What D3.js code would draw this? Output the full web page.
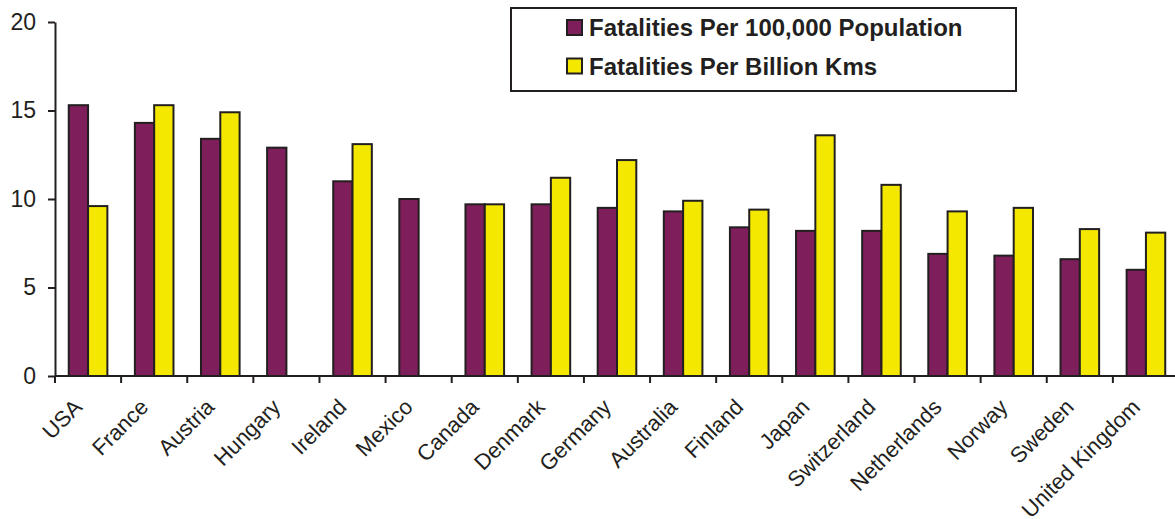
<!DOCTYPE html>
<html>
<head>
<meta charset="utf-8">
<script src="https://cdn.jsdelivr.net/npm/d3@7"></script>
<style>
  html, body { margin: 0; padding: 0; background: #fff; }
  svg { display: block; font-family: "Liberation Sans", Arial, sans-serif; }
</style>
</head>
<body>
<svg id="chart" width="1175" height="519"></svg>
<script>
// Road fatalities by country
const countries = ["USA", "France", "Austria", "Hungary", "Ireland", "Mexico", "Canada",
  "Denmark", "Germany", "Australia", "Finland", "Japan", "Switzerland", "Netherlands",
  "Norway", "Sweden", "United Kingdom"];
const perPopulation = [15.3, 14.3, 13.4, 12.9, 11.0, 10.0, 9.7, 9.7, 9.5, 9.3, 8.4, 8.2, 8.2, 6.9, 6.8, 6.6, 6.0];
const perBillionKm = [9.6, 15.3, 14.9, null, 13.1, null, 9.7, 11.2, 12.2, 9.9, 9.4, 13.6, 10.8, 9.3, 9.5, 8.3, 8.1];
const seriesNames = ["Fatalities Per 100,000 Population", "Fatalities Per Billion Kms"];
const yTicks = [0, 5, 10, 15, 20];

const colors = ["#7e1f5c", "#f5e800"];
const ink = "#231f20";

const svg = d3.select("#chart");

const plotLeft = 55, plotRight = 1179, plotTop = 22, plotBottom = 376;

const step = (plotRight - plotLeft) / countries.length;
const x0 = d3.scaleBand().domain(countries).range([plotLeft, plotRight])
  .paddingInner(0.416).paddingOuter(0.208);
const x1 = d3.scaleBand().domain([0, 1]).range([0, x0.bandwidth()]);
const y = d3.scaleLinear().domain([0, 20]).range([plotBottom, plotTop]);

const rows = countries.map((c, i) => ({ c, v: [perPopulation[i], perBillionKm[i]] }));

// bars
const g = svg.append("g");
rows.forEach(r => {
  r.v.forEach((v, s) => {
    if (v == null) return;
    g.append("rect")
      .attr("x", x0(r.c) + x1(s))
      .attr("y", y(v))
      .attr("width", x1.bandwidth())
      .attr("height", y(0) - y(v))
      .attr("fill", colors[s])
      .attr("stroke", ink)
      .attr("stroke-width", 2);
  });
});

// y axis
const yAxis = svg.append("g")
  .attr("transform", `translate(${plotLeft},0)`)
  .call(d3.axisLeft(y).tickValues(yTicks).tickSize(7).tickPadding(12).tickSizeOuter(0));
yAxis.select(".domain").attr("stroke", ink).attr("stroke-width", 2);
yAxis.selectAll(".tick line").attr("stroke", ink).attr("stroke-width", 2);
yAxis.selectAll(".tick text").attr("fill", ink).style("font-size", "23px")
  .style("font-family", "'Liberation Sans', Arial, sans-serif");

// x axis: boundary ticks between categories
const xAxis = svg.append("g").attr("transform", `translate(0,${plotBottom})`);
xAxis.append("line").attr("x1", plotLeft).attr("x2", plotRight).attr("stroke", ink).attr("stroke-width", 2);
d3.range(countries.length + 1).forEach(i => {
  xAxis.append("line")
    .attr("x1", plotLeft + i * step).attr("x2", plotLeft + i * step)
    .attr("y1", 0).attr("y2", 7)
    .attr("stroke", ink).attr("stroke-width", 2);
});

// category labels, rotated
countries.forEach(c => {
  const cx = x0(c) + x0.bandwidth() / 2;
  svg.append("text")
    .attr("transform", `translate(${cx - 10},${plotBottom + 27}) rotate(-45)`)
    .attr("text-anchor", "end")
    .attr("dy", "0.35em")
    .attr("fill", ink)
    .style("font-size", "22px")
    .text(c);
});

// legend
const legend = svg.append("g");
legend.append("rect")
  .attr("x", 511).attr("y", 8).attr("width", 505).attr("height", 83)
  .attr("fill", "#fff").attr("stroke", ink).attr("stroke-width", 2);
seriesNames.forEach((name, i) => {
  const yy = 20 + i * 38.5;
  legend.append("rect")
    .attr("x", 567).attr("y", yy).attr("width", 15).attr("height", 15)
    .attr("fill", colors[i]).attr("stroke", ink).attr("stroke-width", 2);
  legend.append("text")
    .attr("x", 589).attr("y", yy + 16)
    .attr("fill", ink)
    .style("font-size", "24px").style("font-weight", "bold")
    .text(name);
});
</script>
</body>
</html>
